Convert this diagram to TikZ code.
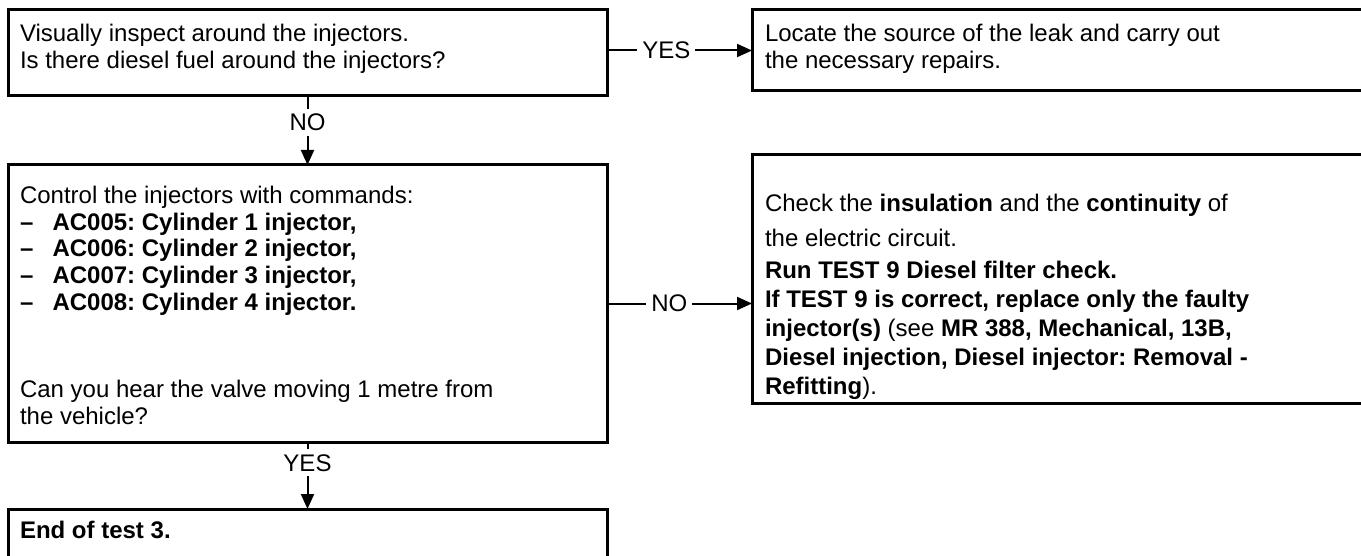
\documentclass[tikz,border=0pt]{standalone}
\usepackage{fontspec}
\setmainfont{Liberation Sans}
\usetikzlibrary{arrows.meta}
\frenchspacing
\newcommand{\FlowText}{\fontsize{12}{13.4}\selectfont}
\newcommand{\FlowTextLoose}{\fontsize{12}{14.5}\selectfont}
% box text: height, width, top gap, text
\newcommand{\FlowPar}[4]{\parbox[c][#1][t]{#2}{\raggedright\vspace*{#3}#4}}
\newcommand{\FlowDash}{\textbf{–}\hspace{0.8em}}
\tikzset{
  flowbox/.style={
    rectangle,
    draw=black,
    line width=1.5pt,
    anchor=north west,
    outer sep=0pt,
    inner xsep=6pt,
    inner ysep=0pt,
    font=\FlowText
  },
  flowarrow/.style={
    -{Triangle[length=7.5pt,width=6.5pt]},
    draw=black,
    line width=1pt
  },
  branchlabel/.style={
    fill=white,
    inner xsep=2.5pt,
    inner ysep=2.5pt,
    font=\FlowText
  }
}
\begin{document}
\begin{tikzpicture}[x=0.5pt,y=-0.5pt]
\useasboundingbox (0,0) rectangle (1361,556);
\clip (0,0) rectangle (1361,556);

\node[flowbox] (inspect) at (8,10)
  {\FlowPar{43pt}{287.5pt}{7pt}{Visually inspect around the injectors.\\
  Is there diesel fuel around the injectors?}};
\node[flowbox, inner xsep=6.5pt] (locate) at (752,10)
  {\FlowPar{40.5pt}{301pt}{7pt}{Locate the source of the leak and carry out\\
  the necessary repairs.}};

\node[flowbox] (control) at (8,165)
  {\FlowPar{138.5pt}{287.5pt}{10.5pt}{Control the injectors with commands:\\
  \FlowDash\textbf{AC005: Cylinder 1 injector,}\\
  \FlowDash\textbf{AC006: Cylinder 2 injector,}\\
  \FlowDash\textbf{AC007: Cylinder 3 injector,}\\
  \FlowDash\textbf{AC008: Cylinder 4 injector.}\\[30pt]
  Can you hear the valve moving 1 metre from\\
  the vehicle?}};
\node[flowbox, inner xsep=6.5pt, font=\FlowTextLoose] (check) at (752,155)
  {\FlowPar{124pt}{301pt}{19.5pt}{Check the \textbf{insulation} and the \textbf{continuity} of\\[3pt]
  the electric circuit.\\[1.5pt]
  \textbf{Run TEST 9 Diesel filter check.}\\
  \textbf{If TEST 9 is correct, replace only the faulty}\\
  \textbf{injector(s)} (see \textbf{MR 388, Mechanical, 13B,}\\
  \textbf{Diesel injection, Diesel injector: Removal -}\\
  \textbf{Refitting}).}};

\node[flowbox] (endtest) at (8,509)
  {\FlowPar{35.5pt}{287.5pt}{6pt}{\textbf{End of test 3.}}};

\draw[flowarrow] (inspect.east |- locate.west) -- node[branchlabel, pos=0.41] {YES} (locate.west);
\draw[flowarrow] (inspect.south) -- node[branchlabel, pos=0.38] {NO} (control.north);
\draw[flowarrow] (control.east) -- node[branchlabel, pos=0.43] {NO} (control.east -| check.west);
\draw[flowarrow] (control.south) -- node[branchlabel, pos=0.31] {YES} (endtest.north);

\end{tikzpicture}
\end{document}
